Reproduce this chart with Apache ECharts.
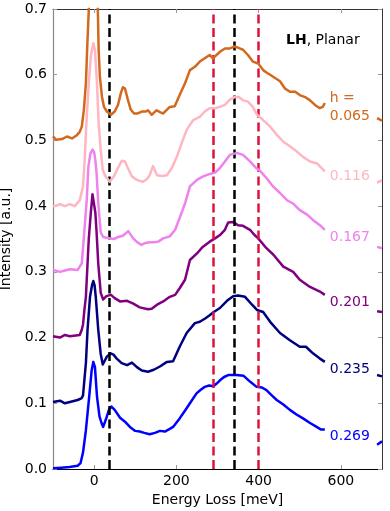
<!DOCTYPE html>
<html>
<head>
<meta charset="utf-8">
<script src="https://cdn.jsdelivr.net/npm/echarts@6/dist/echarts.min.js"></script>
<style>html,body{margin:0;padding:0;background:#fff}#c{width:390px;height:511px}</style>
</head>
<body>
<div id="c"></div>
<script>
// ---- data (energy loss meV, intensity a.u.) ----
const xTicks = [0, 200, 400, 600];
const hLabels = ['0.269', '0.235', '0.201', '0.167', '0.116', 'h =\n0.065'];
const labelY = [0.050, 0.152, 0.254, 0.352, 0.445, 0.551];
const colors = ['#0000FF', '#000080', '#800080', '#EE82EE', '#FFB6C1', '#D2691E'];
const vLinesBlack = [37, 340];
const vLinesRed = [290, 400];

const h0269 = [[-100,0.001],[-80,0.002],[-60,0.003],[-40,0.005],[-33,0.009],[-27,0.025],[-20,0.059],[-12,0.11],[-6,0.15],[-2,0.163],[2,0.155],[7,0.11],[13,0.08],[18,0.07],[22,0.064],[30,0.078],[36,0.09],[42,0.095],[50,0.09],[63,0.078],[75,0.072],[87,0.064],[100,0.058],[111,0.057],[122,0.055],[135,0.053],[148,0.055],[160,0.058],[172,0.057],[184,0.061],[192,0.064],[208,0.077],[220,0.088],[233,0.1],[249,0.115],[260,0.121],[269,0.125],[280,0.127],[290,0.126],[298,0.13],[306,0.135],[316,0.14],[326,0.143],[346,0.143],[363,0.142],[379,0.133],[395,0.125],[408,0.124],[419,0.12],[432,0.112],[444,0.105],[460,0.098],[476,0.09],[492,0.083],[508,0.077],[525,0.07],[541,0.064],[552,0.06],[561,0.06],[600,null],[688,0.037],[700,0.042]];
const h0235 = [[-100,0.102],[-83,0.104],[-71,0.1],[-59,0.102],[-40,0.105],[-30,0.108],[-27,0.112],[-20,0.161],[-16,0.212],[-10,0.262],[-5,0.28],[-2,0.286],[1,0.28],[4,0.262],[10,0.212],[16,0.175],[21,0.159],[25,0.161],[31,0.171],[40,0.176],[47,0.174],[55,0.168],[67,0.161],[80,0.158],[92,0.162],[104,0.155],[116,0.15],[131,0.148],[145,0.151],[160,0.156],[177,0.163],[192,0.164],[208,0.186],[225,0.207],[245,0.222],[257,0.224],[270,0.229],[281,0.234],[291,0.239],[306,0.245],[323,0.256],[338,0.263],[350,0.264],[367,0.262],[384,0.25],[396,0.242],[411,0.239],[428,0.224],[452,0.207],[476,0.196],[500,0.186],[515,0.186],[532,0.176],[549,0.168],[561,0.163],[600,null],[688,0.143],[700,0.141]];
const h0201 = [[-100,0.202],[-83,0.2],[-71,0.204],[-59,0.202],[-35,0.204],[-30,0.212],[-27,0.22],[-24,0.24],[-20,0.262],[-16,0.313],[-13,0.35],[-8,0.39],[-4,0.418],[-1,0.415],[3,0.39],[6,0.36],[10,0.313],[16,0.268],[22,0.258],[30,0.263],[41,0.265],[50,0.26],[63,0.255],[80,0.256],[94,0.252],[111,0.246],[131,0.243],[140,0.244],[153,0.25],[168,0.255],[184,0.262],[197,0.265],[208,0.275],[221,0.288],[233,0.318],[250,0.328],[264,0.338],[281,0.346],[294,0.351],[306,0.356],[318,0.364],[326,0.375],[338,0.376],[350,0.371],[362,0.37],[379,0.364],[390,0.356],[399,0.351],[419,0.336],[436,0.326],[460,0.308],[484,0.3],[500,0.288],[525,0.277],[549,0.27],[561,0.265],[600,null],[688,0.24],[700,0.239]];
const h0167 = [[-100,0.303],[-83,0.3],[-71,0.302],[-59,0.304],[-40,0.303],[-30,0.313],[-24,0.36],[-18,0.409],[-14,0.46],[-9,0.48],[-4,0.486],[0,0.482],[3,0.47],[6,0.45],[10,0.405],[16,0.36],[22,0.353],[30,0.352],[38,0.351],[48,0.35],[58,0.353],[70,0.355],[83,0.362],[95,0.351],[105,0.345],[115,0.341],[125,0.344],[135,0.345],[146,0.345],[156,0.346],[168,0.351],[184,0.354],[197,0.364],[208,0.382],[221,0.404],[233,0.43],[250,0.44],[264,0.445],[281,0.449],[294,0.451],[306,0.458],[318,0.468],[330,0.478],[347,0.481],[362,0.478],[379,0.468],[394,0.458],[403,0.454],[420,0.442],[435,0.43],[452,0.42],[469,0.409],[484,0.404],[500,0.394],[518,0.387],[532,0.379],[549,0.371],[561,0.364],[600,null],[688,0.338],[700,0.336]];
const h0116 = [[-100,0.4],[-90,0.401],[-83,0.403],[-71,0.4],[-59,0.403],[-47,0.4],[-35,0.409],[-27,0.43],[-23,0.47],[-18,0.536],[-13,0.587],[-8,0.628],[-2,0.648],[2,0.638],[7,0.587],[11,0.526],[16,0.486],[21,0.455],[28,0.445],[38,0.437],[48,0.445],[58,0.458],[67,0.469],[75,0.468],[82,0.458],[92,0.445],[104,0.44],[118,0.437],[128,0.441],[135,0.447],[143,0.461],[153,0.447],[165,0.446],[177,0.447],[189,0.458],[201,0.475],[213,0.496],[225,0.516],[241,0.531],[257,0.536],[269,0.544],[281,0.549],[294,0.549],[306,0.551],[318,0.554],[330,0.562],[342,0.566],[352,0.566],[362,0.561],[374,0.559],[386,0.551],[396,0.539],[411,0.531],[428,0.521],[445,0.508],[460,0.498],[476,0.491],[493,0.483],[508,0.475],[525,0.468],[542,0.465],[561,0.453],[600,null],[688,0.436],[700,0.439]];
const h0065 = [[-100,0.506],[-92,0.501],[-78,0.502],[-66,0.506],[-54,0.503],[-42,0.508],[-35,0.513],[-30,0.521],[-25,0.546],[-20,0.587],[-17,0.638],[-13,0.699],[-8,0.76],[-3,0.79],[2,0.78],[6,0.74],[9,0.7],[11,0.638],[14,0.597],[19,0.567],[24,0.551],[31,0.544],[41,0.539],[50,0.544],[58,0.554],[65,0.572],[70,0.581],[75,0.579],[82,0.562],[89,0.547],[97,0.541],[106,0.541],[116,0.544],[126,0.544],[131,0.546],[140,0.539],[152,0.546],[160,0.543],[168,0.541],[184,0.551],[196,0.552],[208,0.569],[221,0.587],[233,0.607],[245,0.612],[257,0.62],[269,0.625],[281,0.63],[289,0.625],[294,0.628],[306,0.635],[318,0.64],[330,0.64],[342,0.643],[354,0.64],[362,0.638],[374,0.63],[386,0.62],[399,0.617],[411,0.607],[420,0.603],[428,0.6],[440,0.595],[452,0.59],[464,0.579],[476,0.574],[489,0.574],[500,0.569],[513,0.566],[525,0.561],[537,0.554],[549,0.549],[556,0.551],[561,0.557],[600,null],[688,0.534],[700,0.53]];

const curves = [h0269, h0235, h0201, h0167, h0116, h0065];
const FONT = 'DejaVu Sans';

const series = curves.map((d, i) => ({
  type: 'line',
  data: d,
  showSymbol: false,
  symbol: 'none',
  connectNulls: false,
  clip: true,
  lineStyle: { color: colors[i], width: 2.5, join: 'round' },
  z: 2 + i,
  markPoint: {
    symbol: 'circle', symbolSize: 0, silent: true,
    data: [{
      coord: [573, labelY[i]],
      label: {
        show: true, position: 'right', distance: 0,
        formatter: hLabels[i], color: colors[i],
        fontSize: 14, fontFamily: FONT, lineHeight: 18, align: 'left'
      }
    }]
  }
}));

series.push({
  type: 'line', data: [], z: 20, silent: true,
  markLine: {
    silent: true, symbol: ['none', 'none'], animation: false,
    label: { show: false },
    data: vLinesBlack.map(v => ({ xAxis: v, lineStyle: { color: '#000', type: [9, 4.5], width: 2.5 } }))
      .concat(vLinesRed.map(v => ({ xAxis: v, lineStyle: { color: '#DC143C', type: [9, 4.5], width: 2.5 } })))
  }
});

const tickStyle = { show: true, inside: true, length: 4, lineStyle: { color: '#999', width: 1 } };

const chart = echarts.init(document.getElementById('c'), null, { renderer: 'canvas' });
chart.setOption({
  animation: false,
  backgroundColor: '#fff',
  title: {
    text: '{b|LH}{n|, Planar}', left: 281, top: 28,
    textStyle: {
      rich: {
        b: { fontWeight: 'bold', fontSize: 14, fontFamily: FONT, color: '#000' },
        n: { fontWeight: 'normal', fontSize: 14, fontFamily: FONT, color: '#000' }
      }
    }
  },
  grid: { left: 53, right: 8, top: 9, bottom: 42, containLabel: false, outerBoundsMode: 'none' },
  xAxis: [{
    type: 'value', min: -100, max: 700, position: 'bottom',
    axisLine: { onZero: false, lineStyle: { color: '#000', width: 1.2 } },
    axisTick: Object.assign({ customValues: xTicks }, tickStyle),
    axisLabel: { customValues: xTicks, color: '#000', fontSize: 14, fontFamily: FONT, margin: 5 },
    splitLine: { show: false },
    name: 'Energy Loss [meV]', nameLocation: 'middle', nameGap: 18,
    nameTextStyle: { color: '#000', fontSize: 14, fontFamily: FONT }
  }, {
    type: 'value', min: -100, max: 700, position: 'top',
    axisLine: { onZero: false, lineStyle: { color: '#333', width: 1 } },
    axisTick: Object.assign({ customValues: xTicks }, tickStyle),
    axisLabel: { show: false },
    splitLine: { show: false }
  }],
  yAxis: [{
    type: 'value', min: 0, max: 0.7, interval: 0.1, position: 'left',
    axisLine: { show: true, onZero: false, lineStyle: { color: '#888', width: 1.2 } },
    axisTick: tickStyle,
    axisLabel: { color: '#000', fontSize: 14, fontFamily: FONT, margin: 6, formatter: v => v.toFixed(1) },
    splitLine: { show: false },
    name: 'Intensity [a.u.]', nameLocation: 'middle', nameGap: 27,
    nameTextStyle: { color: '#000', fontSize: 14, fontFamily: FONT }
  }, {
    type: 'value', min: 0, max: 0.7, interval: 0.1, position: 'right',
    axisLine: { show: true, onZero: false, lineStyle: { color: '#333', width: 1 } },
    axisTick: tickStyle,
    axisLabel: { show: false },
    splitLine: { show: false }
  }],
  series: series
});
</script>
</body>
</html>
